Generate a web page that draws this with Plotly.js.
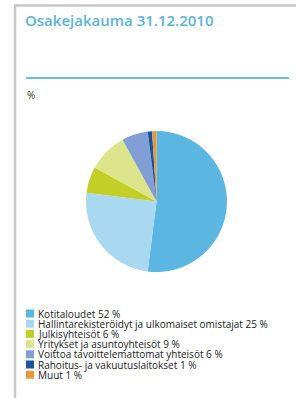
<!DOCTYPE html>
<html><head><meta charset="utf-8">
<script src="https://cdn.plot.ly/plotly-3.0.1.min.js"></script>
<style>html,body{margin:0;padding:0;background:#fff;}#chart{width:296px;height:398px;}</style>
</head><body><div id="chart"></div>
<script>
var categories = ["Kotitaloudet", "Hallintarekisteröidyt ja ulkomaiset omistajat", "Julkisyhteisöt", "Yritykset ja asuntoyhteisöt", "Voittoa tavoittelemattomat yhteisöt", "Rahoitus- ja vakuutuslaitokset", "Muut"];
var values = [52, 25, 6, 9, 6, 1, 1];
var colors = ["#5bb7e2", "#a9d9f1", "#c3cf26", "#dde58c", "#819fd5", "#1a539e", "#e49a3b"];
var titleText = "Osakejakauma 31.12.2010";
var unitLabel = "%";

var W = 296, H = 398;
function px(x){return x / W;}
function py(y){return 1 - y / H;}

var shapes = [
  {type:"line", xref:"paper", yref:"paper", x0:px(14), x1:px(296), y0:py(5.5), y1:py(5.5), line:{color:"#c6c6c6", width:2.5}},
  {type:"line", xref:"paper", yref:"paper", x0:px(15), x1:px(15), y0:py(4.5), y1:py(398), line:{color:"#c6c6c6", width:2.5}},
  {type:"line", xref:"paper", yref:"paper", x0:px(26), x1:px(289), y0:py(78), y1:py(78), line:{color:"#6cbde3", width:2}}
];
var annotations = [
  {xref:"paper", yref:"paper", x:px(25), y:py(95), xanchor:"left", yanchor:"middle", showarrow:false, text:unitLabel, font:{family:"Open Sans, sans-serif", size:10, color:"#333"}}
];
var rowStart = 313.5, rowStep = 10.2;
categories.forEach(function(c, i){
  var yc = rowStart + i * rowStep;
  shapes.push({type:"rect", xref:"paper", yref:"paper", x0:px(26), x1:px(34), y0:py(yc-4), y1:py(yc+4), fillcolor:colors[i], line:{width:0}});
  annotations.push({xref:"paper", yref:"paper", x:px(36), y:py(yc), xanchor:"left", yanchor:"middle", showarrow:false,
    text:c + " " + values[i] + " %", font:{family:"Open Sans, sans-serif", size:10, color:"#222"}});
});

var data = [{
  type:"pie", labels:categories, values:values, sort:false, direction:"clockwise", rotation:0,
  marker:{colors:colors, line:{width:0}}, textinfo:"none", showlegend:false,
  domain:{x:[px(86), px(227)], y:[py(272), py(131)]}
}];
var layout = {
  width:W, height:H, margin:{l:0, r:0, t:0, b:0}, paper_bgcolor:"#fff", plot_bgcolor:"#fff",
  showlegend:false,
  title:{text:titleText, x:px(25), xanchor:"left", xref:"paper", y:py(21), yref:"container", yanchor:"middle",
    font:{family:"Open Sans, sans-serif", size:15, color:"#5ab3dc", weight:600}},
  shapes:shapes, annotations:annotations
};
Plotly.newPlot("chart", data, layout, {displayModeBar:false, staticPlot:true});
</script></body></html>
